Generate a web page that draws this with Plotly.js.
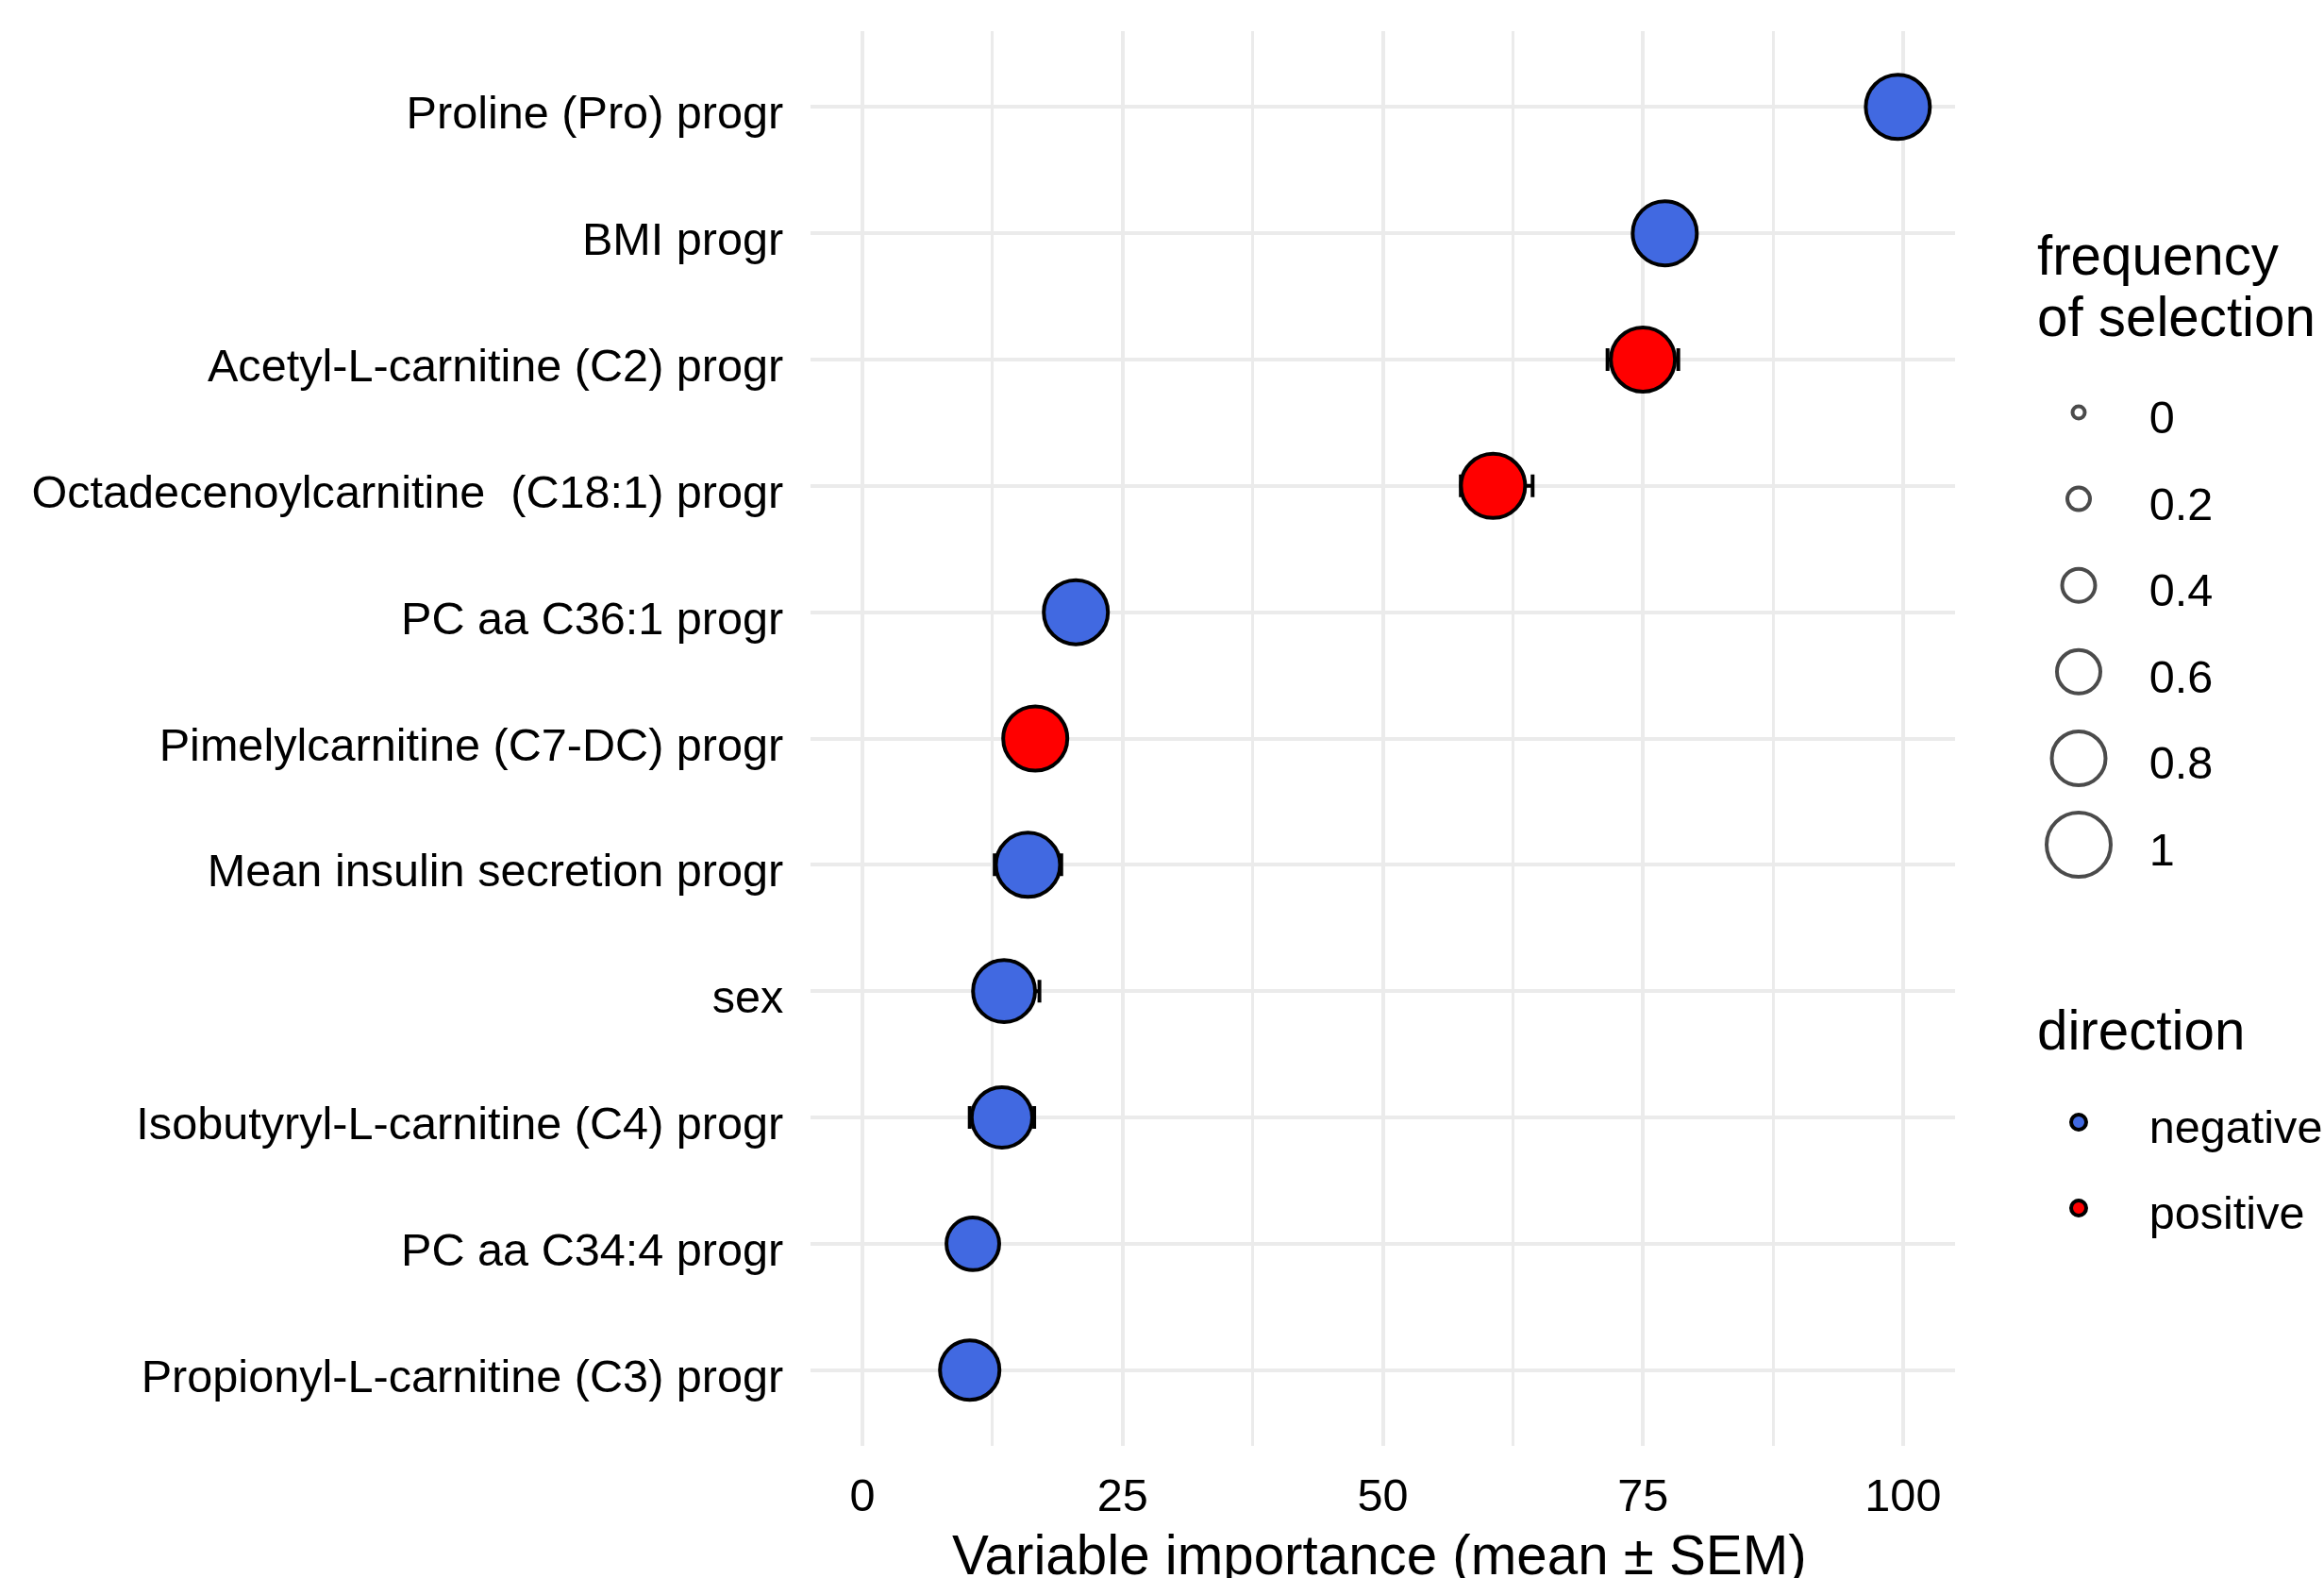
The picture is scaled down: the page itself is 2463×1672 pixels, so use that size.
<!DOCTYPE html>
<html><head><meta charset="utf-8">
<script src="https://cdn.plot.ly/plotly-3.0.1.min.js"></script>
<style>html,body{margin:0;padding:0;background:#fff}</style>
</head><body><div id="chart" style="width:2463px;height:1672px"></div>
<script>
// ---- data ----
const variables = [
  'Proline (Pro) progr',
  'BMI progr',
  'Acetyl-L-carnitine (C2) progr',
  'Octadecenoylcarnitine  (C18:1) progr',
  'PC aa C36:1 progr',
  'Pimelylcarnitine (C7-DC) progr',
  'Mean insulin secretion progr',
  'sex',
  'Isobutyryl-L-carnitine (C4) progr',
  'PC aa C34:4 progr',
  'Propionyl-L-carnitine (C3) progr'
];
const importance = [99.5, 77.1, 75.0, 60.6, 20.5, 16.6, 15.9, 13.6, 13.4, 10.6, 10.3];
const semPlus    = [2.0, 2.5, 3.4, 3.8, 2.0, 2.5, 3.2, 3.4, 3.1, 1.5, 1.5];
const semMinus   = [2.0, 2.5, 3.4, 3.1, 2.0, 2.5, 3.2, 2.8, 3.1, 1.5, 1.5];
const frequency  = [1, 1, 1, 1, 1, 1, 1, 0.96, 0.93, 0.78, 0.91];
const direction  = ['negative','negative','positive','positive','negative','positive',
                    'negative','negative','negative','negative','negative'];
const directionLevels = ['negative', 'positive'];
const freqLegendValues = [0, 0.2, 0.4, 0.6, 0.8, 1];
const freqLegendLabels = ['0', '0.2', '0.4', '0.6', '0.8', '1'];
const xTickVals = [0, 25, 50, 75, 100];
const xTickText = ['0', '25', '50', '75', '100'];
const xTitle = 'Variable importance (mean ± SEM)';

// ---- styling ----
const colors = {negative: '#4169E1', positive: '#FF0000'};
const W = 2463, H = 1672;
const px = v => v / W;
const py = v => 1 - v / H;
const LW = 4;
const sizeOf = f => 17 + 55 * f - LW;   // marker diameter (px) from frequency
const display = variables.map(s => s.replace(/  /g, ' \u00a0'));
const FONT = 'Liberation Sans, Arial, sans-serif';
const GRID = '#EBEBEB';
const TICK_SIZE = 48.6, TITLE_SIZE = 58.3;

const traces = directionLevels.map(lev => {
  const idx = direction.map((d, i) => d === lev ? i : -1).filter(i => i >= 0);
  return {
    type: 'scatter', mode: 'markers', name: lev,
    x: idx.map(i => importance[i]),
    y: idx.map(i => display[i]),
    xaxis: 'x', yaxis: 'y',
    error_x: {type: 'data', symmetric: false,
              array: idx.map(i => semPlus[i]), arrayminus: idx.map(i => semMinus[i]),
              color: '#000', thickness: 4, width: 12},
    marker: {color: colors[lev], size: idx.map(i => sizeOf(frequency[i])),
             line: {color: '#000', width: LW}, opacity: 1},
    hoverinfo: 'x+y'
  };
});

// size legend
traces.push({
  type: 'scatter', mode: 'markers', xaxis: 'x2', yaxis: 'y2',
  x: freqLegendLabels.map(() => 0), y: freqLegendLabels,
  marker: {color: 'rgba(255,255,255,0)', size: freqLegendValues.map(sizeOf),
           line: {color: '#000', width: LW}},
  hoverinfo: 'skip'
});
// direction legend
traces.push({
  type: 'scatter', mode: 'markers', xaxis: 'x3', yaxis: 'y3',
  x: directionLevels.map(() => 0), y: directionLevels,
  marker: {color: directionLevels.map(l => colors[l]), size: 16,
           line: {color: '#000', width: LW}},
  hoverinfo: 'skip'
});

const hiddenTicks = {ticks: 'outside', tickcolor: 'rgba(0,0,0,0)', tickwidth: 1};

const layout = {
  width: W, height: H,
  margin: {l: 0, r: 0, t: 0, b: 0},
  paper_bgcolor: '#fff', plot_bgcolor: '#fff',
  showlegend: false,
  font: {family: FONT, color: '#000', size: TICK_SIZE},
  xaxis: Object.assign({
    domain: [px(859), px(2072)], range: [-5, 105], anchor: 'y',
    tickmode: 'array', tickvals: xTickVals, ticktext: xTickText,
    ticklen: 10, tickfont: {size: TICK_SIZE, color: '#000'},
    showgrid: true, gridcolor: GRID, gridwidth: 4,
    zeroline: false, showline: false,
    minor: {tickmode: 'linear', tick0: 0, dtick: 12.5, showgrid: true,
            gridcolor: GRID, gridwidth: 3, ticks: ''}
  }, hiddenTicks),
  yaxis: Object.assign({
    domain: [py(1532), py(33)], anchor: 'x',
    type: 'category', categoryorder: 'array', categoryarray: display,
    range: [10.6, -0.6], ticklen: 18, ticklabelshift: -6, tickfont: {size: TICK_SIZE, color: '#000'},
    showgrid: true, gridcolor: GRID, gridwidth: 4,
    zeroline: false, showline: false
  }, hiddenTicks),
  xaxis2: {domain: [px(2163), px(2243)], range: [-1, 1], anchor: 'y2', visible: false},
  yaxis2: Object.assign({
    domain: [py(940.8), py(391.2)], anchor: 'x2', side: 'right',
    type: 'category', categoryorder: 'array', categoryarray: freqLegendLabels,
    range: [5.5, -0.5], ticklen: 24, ticklabelshift: -5, tickfont: {size: TICK_SIZE, color: '#000'},
    showgrid: false, zeroline: false, showline: false
  }, hiddenTicks),
  xaxis3: {domain: [px(2163), px(2243)], range: [-1, 1], anchor: 'y3', visible: false},
  yaxis3: Object.assign({
    domain: [py(1325.5), py(1143.5)], anchor: 'x3', side: 'right',
    type: 'category', categoryorder: 'array', categoryarray: directionLevels,
    range: [1.5, -0.5], ticklen: 24, ticklabelshift: -5, tickfont: {size: TICK_SIZE, color: '#000'},
    showgrid: false, zeroline: false, showline: false
  }, hiddenTicks),
  annotations: [
    {text: 'frequency', x: px(2157), y: py(271), xanchor: 'left'},
    {text: 'of selection', x: px(2157), y: py(335), xanchor: 'left'},
    {text: 'direction', x: px(2157), y: py(1091), xanchor: 'left'},
    {text: xTitle, x: px(1462), y: py(1647), xanchor: 'center'}
  ].map(a => Object.assign({xref: 'paper', yref: 'paper', yanchor: 'middle',
                            showarrow: false, font: {size: TITLE_SIZE, color: '#000', family: FONT}}, a))
};

Plotly.newPlot('chart', traces, layout, {staticPlot: true, displayModeBar: false});
</script>
</body></html>
